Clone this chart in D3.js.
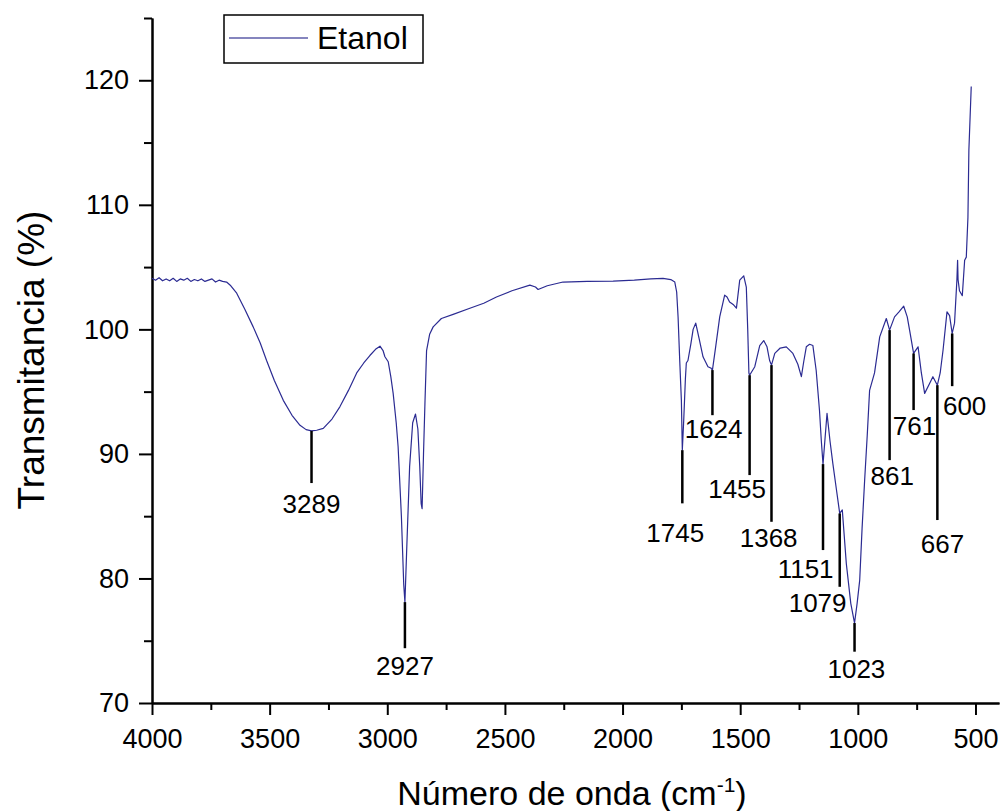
<!DOCTYPE html>
<html>
<head>
<meta charset="utf-8">
<script src="https://cdn.jsdelivr.net/npm/d3@7"></script>
<style>
  body { margin: 0; background: #fff; }
  svg { font-family: "Liberation Sans", Arial, sans-serif; }
</style>
</head>
<body>
<div id="chart"></div>
<script>
// IR spectrum, ethanol extract
var seriesName = "Etanol"

// wavenumber (cm-1)
var wavenumber = [
  4000, 3985, 3970, 3955, 3940, 3925, 3910, 3895, 3880, 3865, 3850, 3835, 3820, 3805, 3790, 3775,
  3760, 3745, 3730, 3715, 3700,
  3683, 3665, 3640, 3605, 3570, 3540, 3513, 3480, 3442, 3405, 3371, 3345, 3322, 3300, 3272, 3235,
  3201, 3165, 3130, 3100, 3074, 3050, 3031, 3018, 3010, 2996, 2985, 2975, 2962, 2954, 2940, 2930,
  2925, 2918, 2905, 2892, 2880, 2870, 2862, 2856, 2852, 2846, 2840, 2833, 2820, 2805, 2770, 2720,
  2649, 2590, 2536, 2470, 2394, 2370, 2359, 2320, 2253, 2150, 2040, 1950, 1880, 1828, 1795, 1778,
  1770, 1764, 1757, 1750, 1746, 1740, 1733, 1729, 1722, 1710, 1700, 1689, 1675, 1658, 1637, 1625,
  1618, 1605, 1587, 1566, 1556, 1545, 1530, 1516, 1502, 1485, 1474, 1468, 1463, 1460, 1438, 1417,
  1400, 1386, 1375, 1367, 1353, 1330, 1304, 1276, 1255, 1240, 1230, 1219, 1205, 1191, 1177, 1163,
  1155, 1148, 1131, 1118, 1106, 1090, 1077, 1066, 1049, 1030, 1014, 1003, 992, 982, 971, 960,
  950, 929, 907, 879, 865, 844, 825, 805, 790, 780, 763, 744, 730, 716, 695, 681,
  662, 650, 638, 621, 610, 599, 589, 579, 576, 574, 568, 556, 546, 539, 532, 528, 518
]

// transmittance (%)
var transmitancia = [
  104.1, 103.95, 104.15, 103.9, 104.05, 103.9, 104.1, 103.85, 104.05, 103.95, 104.1, 103.85, 104.0, 103.9, 104.05, 103.85,
  103.95, 104.05, 103.8, 103.95, 103.85,
  103.8, 103.5, 102.9, 101.6, 100.2, 98.9, 97.5, 95.9, 94.3, 93.1, 92.3, 91.95, 91.85, 91.9, 92.05, 92.8,
  93.8, 95.1, 96.5, 97.3, 97.9, 98.4, 98.65, 98.3, 97.8, 97.4, 96.2, 94.86, 92.5, 90.6, 85.0, 79.5,
  78.1, 82.0, 89.0, 92.5, 93.2, 92.0, 89.0, 86.0, 85.6, 90.0, 94.0, 98.3, 99.6, 100.2, 100.87, 101.2,
  101.7, 102.1, 102.6, 103.1, 103.55, 103.4, 103.2, 103.5, 103.8, 103.85, 103.87, 103.95, 104.05, 104.1, 104.0, 103.8,
  103.0, 101.0, 97.5, 94.3, 90.3, 92.7, 96.0, 97.3, 97.5, 98.8, 100.0, 100.5, 99.3, 97.8, 97.0, 96.9,
  96.73, 98.5, 101.0, 102.75, 102.6, 102.2, 102.0, 101.7, 103.95, 104.3, 103.4, 100.0, 96.5, 96.32, 97.0, 98.7,
  99.1, 98.6, 97.5, 97.13, 98.07, 98.5, 98.6, 98.07, 97.2, 96.2, 97.4, 98.6, 98.8, 98.7, 96.7, 93.5,
  91.0, 89.18, 93.25, 91.0, 89.2, 87.0, 85.22, 85.5, 81.2, 78.0, 76.42, 78.0, 79.87, 84.0, 87.9, 91.5,
  95.1, 96.5, 99.4, 100.87, 99.94, 101.0, 101.4, 101.86, 101.0, 99.94, 98.07, 98.6, 96.5, 94.86, 95.66, 96.2,
  95.52, 96.5, 98.3, 101.4, 101.1, 99.67, 100.5, 103.95, 105.55, 104.0, 103.1, 102.7, 105.55, 105.8, 109.0, 114.4, 119.5
]

// peak labels: text, marker wavenumber, marker top / bottom (%), label wavenumber, label baseline (%)
var peakLabels = ["3289", "2927", "1745", "1624", "1455", "1368", "1151", "1079", "1023", "861", "761", "667", "600"]
var peakX      = [3322, 2925, 1746, 1618, 1460, 1367, 1148, 1077, 1014, 865, 763, 662, 599]
var peakTop    = [91.85, 78.1, 90.3, 96.73, 96.32, 97.13, 89.18, 85.22, 76.42, 99.94, 98.07, 95.52, 99.67]
var peakBottom = [87.66, 74.4, 86.03, 93.11, 88.3, 84.55, 82.28, 79.33, 74.12, 89.5, 93.52, 84.69, 95.44]
var labelX     = [3322, 2925, 1776, 1613, 1513, 1379, 1222, 1171, 1006, 854, 759, 640, 546]
var labelY     = [85.25, 72.25, 82.92, 91.27, 86.45, 82.54, 80.03, 77.33, 72.0, 87.5, 91.51, 82.04, 93.11]

var xMajor = [4000, 3500, 3000, 2500, 2000, 1500, 1000, 500]
var xMinor = [3750, 3250, 2750, 2250, 1750, 1250, 750]
var yMajor = [70, 80, 90, 100, 110, 120]
var yMinor = [75, 85, 95, 105, 115, 125]

var width = 1003, height = 811
var lineColor = "#2b2b92"

var svg = d3.select("#chart").append("svg")
    .attr("width", width)
    .attr("height", height)

var x = d3.scaleLinear().domain([4000, 400]).range([152, 999])
var y = d3.scaleLinear().domain([70, 125]).range([703, 18])

// axes
function styleAxis(g) {
    g.selectAll(".domain").attr("stroke", "#000").attr("stroke-width", 2)
    g.selectAll(".tick line").attr("stroke", "#000").attr("stroke-width", 2)
    g.selectAll("text").attr("fill", "#000").style("font-size", "27px")
}

svg.append("g")
    .attr("transform", "translate(0,703)")
    .call(d3.axisBottom(x).tickValues(xMinor).tickSize(7).tickSizeOuter(0).tickFormat(""))
    .call(styleAxis)

svg.append("g")
    .attr("transform", "translate(0,703)")
    .call(d3.axisBottom(x).tickValues(xMajor).tickSize(12).tickSizeOuter(0).tickPadding(14).tickFormat(d3.format("d")))
    .call(styleAxis)

svg.append("g")
    .attr("transform", "translate(152,0)")
    .call(d3.axisLeft(y).tickValues(yMinor).tickSize(8).tickSizeOuter(0).tickFormat(""))
    .call(styleAxis)

svg.append("g")
    .attr("transform", "translate(152,0)")
    .call(d3.axisLeft(y).tickValues(yMajor).tickSize(13).tickSizeOuter(0).tickPadding(10).tickFormat(d3.format("d")))
    .call(styleAxis)

// axis titles
var xTitle = svg.append("text")
    .attr("x", 572)
    .attr("y", 805)
    .attr("text-anchor", "middle")
    .style("font-size", "34px")
xTitle.append("tspan").text("Número de onda (cm")
xTitle.append("tspan").attr("dy", -13).style("font-size", "21px").text("-1")
xTitle.append("tspan").attr("dy", 13).text(")")

svg.append("text")
    .attr("transform", "translate(44,360) rotate(-90)")
    .attr("text-anchor", "middle")
    .style("font-size", "37px")
    .text("Transmitancia (%)")

// spectrum
var points = wavenumber.map((w, i) => [w, transmitancia[i]])
svg.append("path")
    .datum(points)
    .attr("fill", "none")
    .attr("stroke", lineColor)
    .attr("stroke-width", 1.2)
    .attr("stroke-linejoin", "round")
    .attr("d", d3.line().x(d => x(d[0])).y(d => y(d[1])))

// peak markers
var peaks = peakLabels.map((t, i) => ({
    text: t, px: peakX[i], top: peakTop[i], bottom: peakBottom[i], lx: labelX[i], ly: labelY[i]
}))

svg.append("g").selectAll("line")
    .data(peaks)
    .join("line")
        .attr("x1", d => x(d.px))
        .attr("x2", d => x(d.px))
        .attr("y1", d => y(d.top))
        .attr("y2", d => y(d.bottom))
        .attr("stroke", "#000")
        .attr("stroke-width", 2.5)

svg.append("g").selectAll("text")
    .data(peaks)
    .join("text")
        .attr("x", d => x(d.lx))
        .attr("y", d => y(d.ly))
        .attr("text-anchor", "middle")
        .style("font-size", "26px")
        .text(d => d.text)

// legend
var legend = svg.append("g")
legend.append("rect")
    .attr("x", 224).attr("y", 15)
    .attr("width", 199).attr("height", 48)
    .attr("fill", "#fff")
    .attr("stroke", "#000")
    .attr("stroke-width", 1.5)
legend.append("line")
    .attr("x1", 229).attr("x2", 308)
    .attr("y1", 38).attr("y2", 38)
    .attr("stroke", "#5c5ca8")
    .attr("stroke-width", 1.5)
legend.append("text")
    .attr("x", 317).attr("y", 49)
    .style("font-size", "32px")
    .text(seriesName)
</script>
</body>
</html>
